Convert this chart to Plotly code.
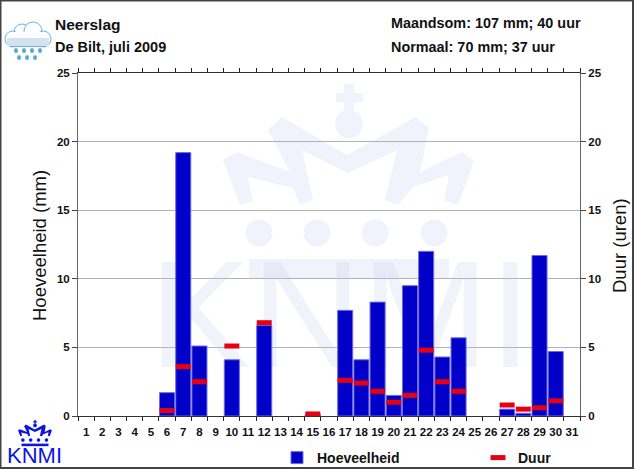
import plotly.graph_objects as go

# Neerslag De Bilt, juli 2009 (KNMI maandoverzicht)
dagen = list(range(1, 32))
regen_dagen = [6, 7, 8, 10, 12, 15, 17, 18, 19, 20, 21, 22, 23, 24, 27, 28, 29, 30]
hoeveelheid = [1.7, 19.2, 5.1, 4.1, 6.6, 0.1, 7.7, 4.1, 8.3, 1.5, 9.5, 12.0, 4.3, 5.7, 0.5, 0.2, 11.7, 4.7]
duur = [0.4, 3.6, 2.5, 5.1, 6.8, 0.15, 2.6, 2.4, 1.8, 1.0, 1.5, 4.8, 2.5, 1.8, 0.8, 0.5, 0.6, 1.1]

W, H = 634, 469
LEFT, RIGHT, TOP, BOTTOM = 78, 580, 73, 416
FONT = "Liberation Sans"
INK = "#111111"
WATERMARK = "#f0f3fb"
LOGO_BLUE = "#0a14e6"

# kroon uit het KNMI logo, in pixels van het plaatje
CROWN = [(223, 160), (237, 152), (290, 172), (268, 130), (282, 117), (347, 155), (416, 117),
         (429, 128), (420, 172), (462, 152), (474, 161), (458, 205), (444, 201), (449, 175),
         (413, 187), (398, 205), (385, 200), (397, 150), (348, 173), (302, 150), (313, 200),
         (300, 205), (293, 188), (248, 177), (253, 201), (240, 205)]
DOTS = [259, 317, 375, 434]


def px(x):
    return (x - LEFT) / (RIGHT - LEFT)


def py(y):
    return (BOTTOM - y) / (BOTTOM - TOP)


def polygon(points, color):
    path = "M" + "L".join(f"{px(x):.4f},{py(y):.4f}" for x, y in points) + "Z"
    return dict(type="path", xref="paper", yref="paper", path=path, fillcolor=color,
                line=dict(width=0), layer="below")


def box(x0, y0, x1, y1, color, kind="rect", line=None):
    return dict(type=kind, xref="paper", yref="paper", x0=px(x0), y0=py(y0), x1=px(x1), y1=py(y1),
                fillcolor=color, line=line or dict(width=0), layer="below")


def crown_shapes(color, scale=1.0, dx=0.0, dy=0.0):
    t = lambda x, y: (x * scale + dx, y * scale + dy)
    shapes = [polygon([t(x, y) for x, y in CROWN], color)]
    # bol en kruis
    x0, y0 = t(335, 110)
    x1, y1 = t(363, 138)
    shapes.append(box(x0, y0, x1, y1, color, "circle"))
    x0, y0 = t(344, 84)
    x1, y1 = t(354, 112)
    shapes.append(box(x0, y0, x1, y1, color))
    x0, y0 = t(336, 93)
    x1, y1 = t(363, 102)
    shapes.append(box(x0, y0, x1, y1, color))
    for d in DOTS:
        x0, y0 = t(d - 13.5, 219.5)
        x1, y1 = t(d + 13.5, 246.5)
        shapes.append(box(x0, y0, x1, y1, color, "circle"))
    x0, y0 = t(249, 259)
    x1, y1 = t(449, 278)
    shapes.append(box(x0, y0, x1, y1, color))
    return shapes


def cloud_shapes():
    edge = "#6db3e0"
    body = "#d3e2ef"
    shapes = []
    for x0, y0, x1, y1 in [(14, 24, 30, 40), (24, 22, 42, 40), (5, 31, 20, 47), (36, 31, 51, 47)]:
        shapes.append(box(x0, y0, x1, y1, "#fdfeff", "circle", dict(color=edge, width=1)))
    shapes.append(box(12, 32, 44, 46.5, "#fdfeff"))
    shapes.append(box(7, 38, 49, 46, body))
    shapes.append(box(10, 46, 46, 47, edge))
    for x, y in [(16, 50), (24, 50), (32, 50), (40, 50), (19, 57), (27, 57), (35, 57)]:
        shapes.append(box(x - 2, y - 2, x + 2, y + 3, "#5aa5d3", "circle"))
    return shapes


fig = go.Figure()

# watermerk als tekst in het onderste subplot, de balken liggen daar overheen
fig.add_trace(go.Scatter(x=[16.7], y=[0.8], mode="text", text=["KNMI"], textposition="top center",
                         textfont=dict(family=FONT, size=153, color="rgba(190,200,235,0.22)"),
                         showlegend=False, hoverinfo="skip", cliponaxis=False))

fig.add_trace(go.Bar(x=regen_dagen, y=hoeveelheid, name="Hoeveelheid", xaxis="x2", yaxis="y2", width=0.93,
                     marker=dict(color="#0000c8", line=dict(color="#6c6ce4", width=1)), legend="legend"))

fig.add_trace(go.Scatter(x=regen_dagen, y=duur, name="Duur", xaxis="x2", yaxis="y3", mode="markers",
                         marker=dict(symbol="line-ew", size=10.7, color="#e60012",
                                     line=dict(color="#e60012", width=5)), legend="legend2"))

tick_font = dict(family=FONT, size=11.5, color=INK, weight="bold")
y_common = dict(range=[0, 25], tick0=0, dtick=5, ticks="outside", ticklen=5, tickcolor="#444444",
                showline=True, linecolor="#666666", linewidth=1, zeroline=False, tickfont=tick_font)
legend_common = dict(xanchor="left", yanchor="top", xref="container", yref="container",
                     bgcolor="rgba(0,0,0,0)",
                     font=dict(family=FONT, size=14, color=INK, weight="bold"))

fig.update_layout(
    width=W, height=H, autosize=False,
    margin=dict(l=LEFT, r=W - RIGHT, t=TOP, b=H - BOTTOM, autoexpand=False),
    paper_bgcolor="white", plot_bgcolor="rgba(0,0,0,0)",
    font=dict(family=FONT, color=INK),
    # xaxis geeft alleen de streepjes tussen de dagen, xaxis2 de dagnummers
    xaxis=dict(range=[0.5, 31.5], tickmode="array", tickvals=[d - 0.5 for d in dagen] + [31.5],
               ticks="outside", ticklen=4, tickwidth=1, tickcolor="#222222", showticklabels=False,
               showgrid=False, showline=True, linecolor="#333333", linewidth=1, mirror="ticks",
               zeroline=False),
    xaxis2=dict(range=[0.5, 31.5], overlaying="x", side="bottom", tickmode="array", tickvals=dagen,
                ticks="", showgrid=False, zeroline=False, tickangle=0, ticklabelstandoff=7,
                tickfont=tick_font),
    yaxis=dict(**y_common, side="left", showgrid=True, gridcolor="#b2b2b2", gridwidth=1),
    yaxis2=dict(range=[0, 25], overlaying="y", side="left", visible=False),
    yaxis3=dict(**y_common, overlaying="y", side="right", showgrid=False),
    legend=dict(**legend_common, x=277 / W, y=1 - 442 / H),
    legend2=dict(**legend_common, x=478 / W, y=1 - 442 / H),
    showlegend=True,
)

shapes = crown_shapes(WATERMARK)
shapes += crown_shapes(LOGO_BLUE, scale=0.135, dx=18 - 223 * 0.135, dy=420 - 84 * 0.135)
shapes += cloud_shapes()
shapes.append(box(0.5, 0.5, 633, 468, "rgba(0,0,0,0)", line=dict(color="#444444", width=2)))
fig.update_layout(shapes=shapes)

teksten = [
    ("Neerslag", 54, 24, 15.5),
    ("De Bilt, juli 2009", 54, 47, 14.5),
    ("Maandsom: 107 mm; 40 uur", 390, 23, 14.4),
    ("Normaal: 70 mm; 37 uur", 390, 47, 14.4),
]
for tekst, x, y, size in teksten:
    fig.add_annotation(text=tekst, xref="paper", yref="paper", x=px(x), y=py(y), xanchor="left",
                       yanchor="middle", showarrow=False, borderpad=0,
                       font=dict(family=FONT, size=size, color=INK, weight="bold"))

# astitels als annotatie, zonder automargin komen de echte titels midden in de grafiek
for tekst, x in [("Hoeveelheid (mm)", 40), ("Duur (uren)", 620)]:
    fig.add_annotation(text=tekst, xref="paper", yref="paper", x=px(x), y=py(246), textangle=-90,
                       xanchor="center", yanchor="middle", showarrow=False, borderpad=0,
                       font=dict(family=FONT, size=18.5, color=INK))

fig.add_annotation(text="KNMI", xref="paper", yref="paper", x=px(34.5), y=py(455.5), xanchor="center",
                   yanchor="middle", showarrow=False, borderpad=0,
                   font=dict(family=FONT, size=22, color=LOGO_BLUE))

fig.write_html("out.html", config=dict(displayModeBar=False), post_script="document.body.style.margin='0';")
